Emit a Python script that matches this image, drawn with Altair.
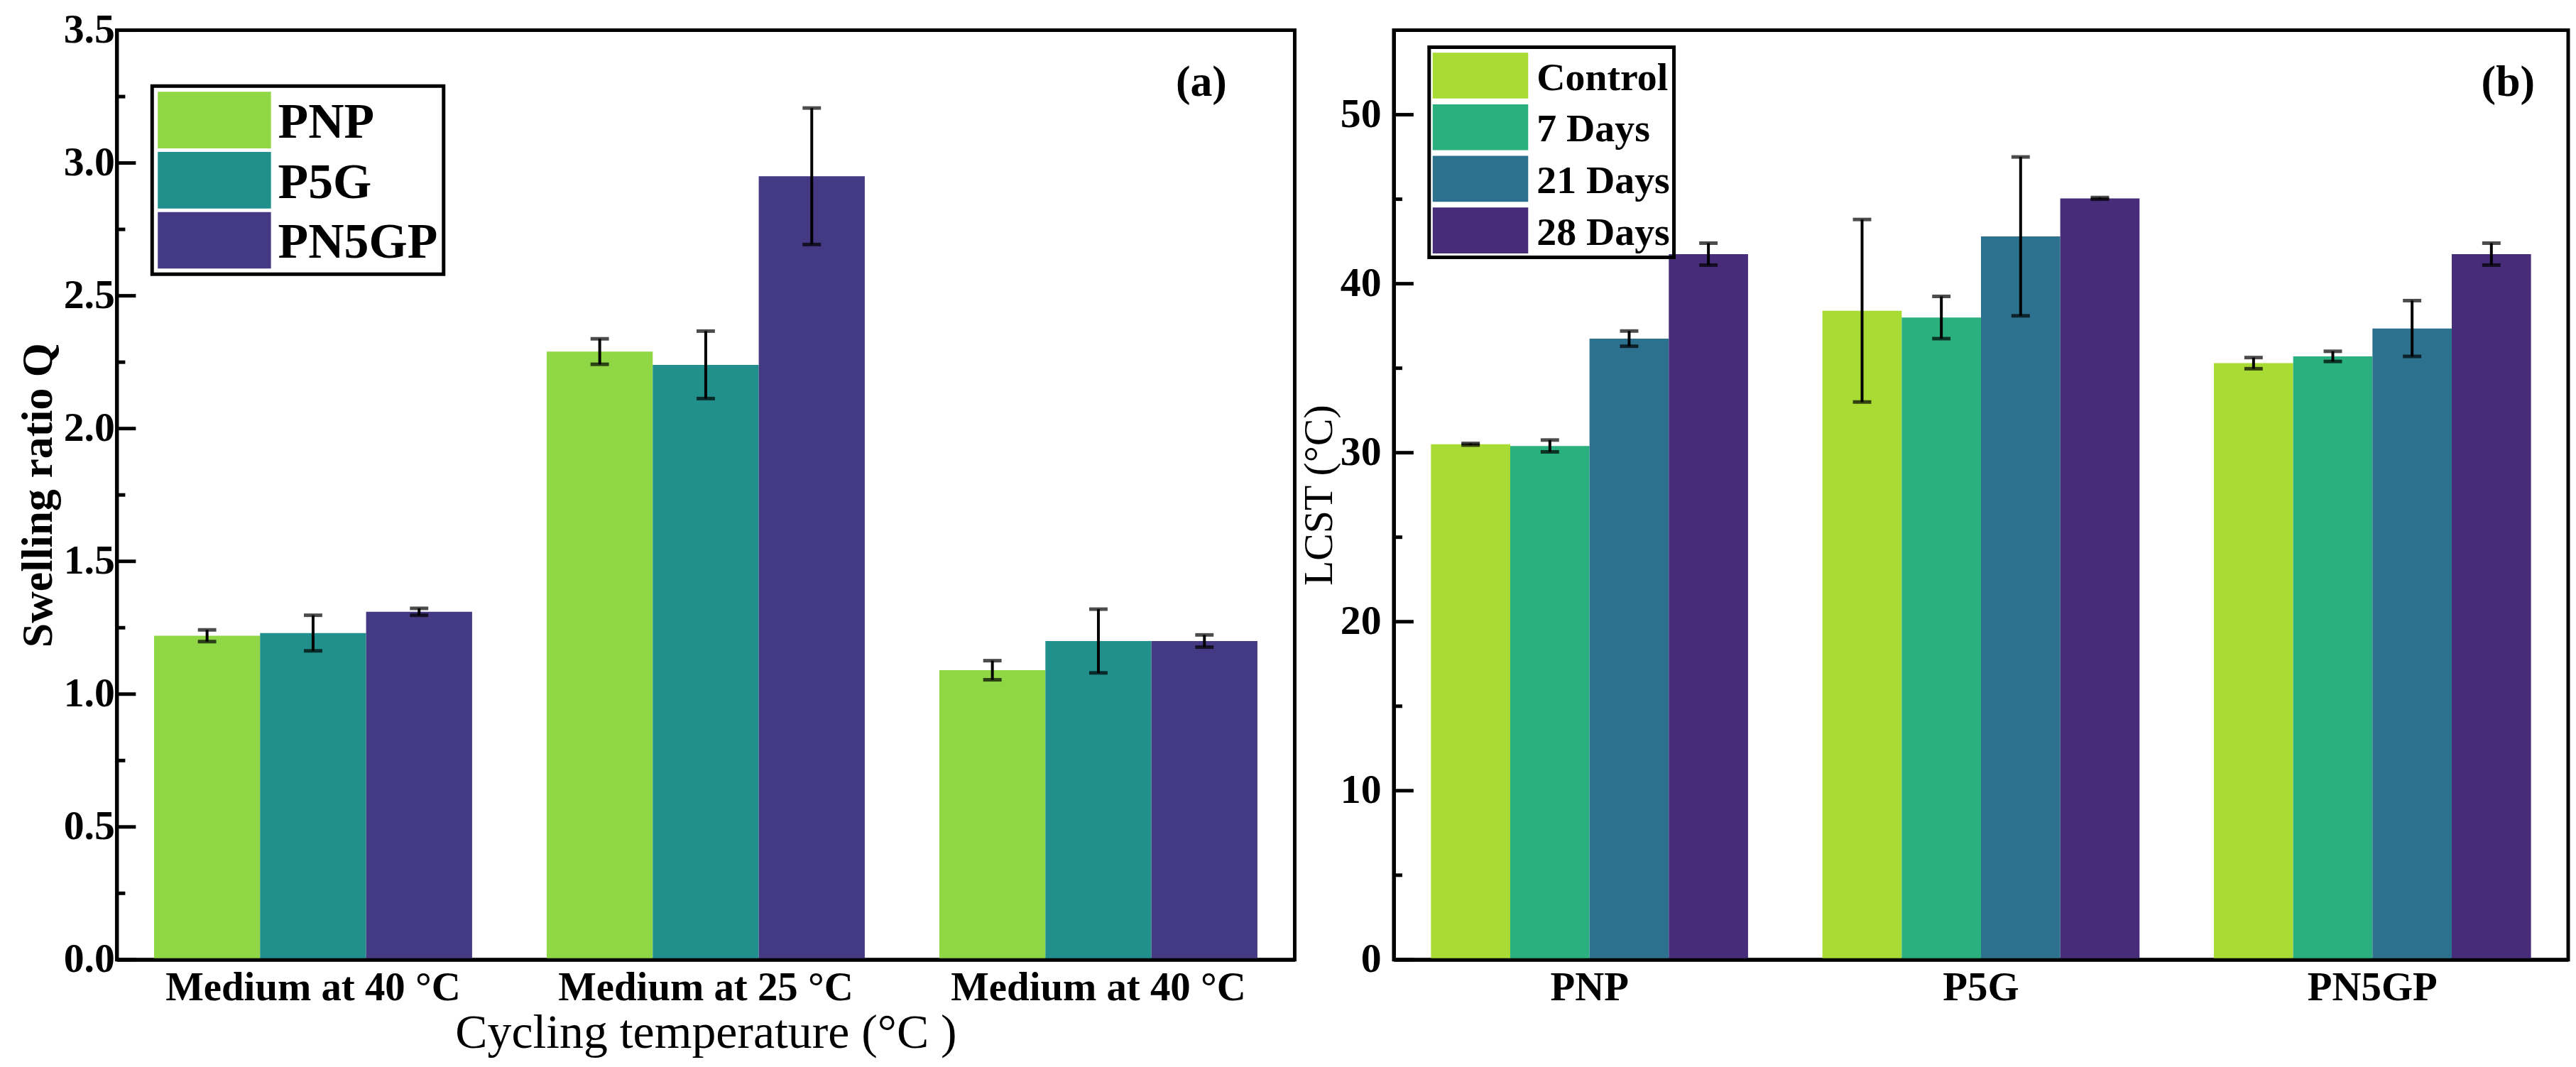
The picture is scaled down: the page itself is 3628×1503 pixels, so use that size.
import altair as alt
import pandas as pd

# ---------------- data: panel (a) ----------------
conditions = ["Medium at 40 °C", "Medium at 25 °C", "Medium at 40 °C"]
samples_a = ["PNP", "P5G", "PN5GP"]
q_pnp = [1.22, 2.29, 1.09]
q_pnp_err = [0.022, 0.048, 0.036]
q_p5g = [1.23, 2.24, 1.20]
q_p5g_err = [0.067, 0.127, 0.12]
q_pn5gp = [1.31, 2.95, 1.20]
q_pn5gp_err = [0.013, 0.257, 0.023]
colors_a = ["#8FD744", "#21908C", "#443983"]
yticks_a = [0.0, 0.5, 1.0, 1.5, 2.0, 2.5, 3.0, 3.5]
yminor_a = [0.25, 0.75, 1.25, 1.75, 2.25, 2.75, 3.25]

# ---------------- data: panel (b) ----------------
samples_b = ["PNP", "P5G", "PN5GP"]
times_b = ["Control", "7 Days", "21 Days", "28 Days"]
lcst_control = [30.5, 38.4, 35.3]
lcst_control_err = [0.05, 5.4, 0.33]
lcst_7d = [30.4, 38.0, 35.7]
lcst_7d_err = [0.35, 1.25, 0.3]
lcst_21d = [36.75, 42.8, 37.35]
lcst_21d_err = [0.45, 4.7, 1.65]
lcst_28d = [41.75, 45.05, 41.75]
lcst_28d_err = [0.65, 0.05, 0.65]
colors_b = ["#A8DB34", "#2AB07F", "#2C728E", "#472C7A"]
yticks_b = [0, 10, 20, 30, 40, 50]
yminor_b = [5, 15, 25, 35, 45]

FONT = "Liberation Serif"

# ---------------- build tables ----------------
cond_ids = [f"c{i}" for i in range(len(conditions))]
rows_a = []
for s, vals, errs in zip(samples_a, [q_pnp, q_p5g, q_pn5gp], [q_pnp_err, q_p5g_err, q_pn5gp_err]):
    for cid, v, e in zip(cond_ids, vals, errs):
        rows_a.append({"cond": cid, "sample": s, "q": v, "lo": v - e, "hi": v + e})
df_a = pd.DataFrame(rows_a)

rows_b = []
for t, vals, errs in zip(times_b, [lcst_control, lcst_7d, lcst_21d, lcst_28d],
                         [lcst_control_err, lcst_7d_err, lcst_21d_err, lcst_28d_err]):
    for s, v, e in zip(samples_b, vals, errs):
        rows_b.append({"sample": s, "time": t, "lcst": v, "lo": v - e, "hi": v + e})
df_b = pd.DataFrame(rows_b)

label_expr = " : ".join(
    [f"datum.value == '{cid}' ? '{lab}'" for cid, lab in zip(cond_ids, conditions)]
) + " : ''"

W_A, W_B, H = 1665, 1660, 1314

# ---------------- panel (a) ----------------
ya = alt.Scale(domain=[0, 3.5], nice=False, zero=True)
yaxis_a = alt.Axis(values=yticks_a, format=".1f", title="Swelling ratio Q",
                   labelFontSize=58, labelFontWeight="bold", labelPadding=3,
                   titleFontSize=62, titleFontWeight="bold", titlePadding=4,
                   ticks=False, domainWidth=5, zindex=1)
xaxis_a = alt.Axis(labelExpr=label_expr, title="Cycling temperature (°C )",
                   labelAngle=0, labelFontSize=57, labelFontWeight="bold",
                   labelPadding=12, labelLimit=700, titleFontSize=68,
                   titleFontWeight="normal", titlePadding=2, ticks=False,
                   domainWidth=5, zindex=1)
xsc_a = alt.Scale(paddingInner=0.19, paddingOuter=0.095)
xa = alt.X("cond:N", sort=cond_ids, scale=xsc_a, axis=xaxis_a)
xoff_a = alt.XOffset("sample:N", sort=samples_a,
                     scale=alt.Scale(paddingInner=0, paddingOuter=0))

bars_a = alt.Chart(df_a).mark_bar(strokeWidth=0).encode(
    x=xa,
    xOffset=xoff_a,
    y=alt.Y("q:Q", scale=ya, axis=yaxis_a),
    color=alt.Color("sample:N",
                    scale=alt.Scale(domain=samples_a, range=colors_a),
                    legend=alt.Legend(title=None, orient="none", legendX=50, legendY=79,
                                      symbolType="M-1,-1H1V0H-1Z", symbolSize=25600,
                                      symbolStrokeWidth=0, symbolOpacity=1,
                                      labelFontSize=70, labelFontWeight="bold",
                                      labelBaseline="bottom",
                                      labelOffset=10, labelLimit=500, rowPadding=5,
                                      padding=8, strokeColor="black")),
)

err_rule_a = alt.Chart(df_a).mark_rule(color="black", strokeWidth=4).encode(
    x=xa, xOffset=xoff_a,
    y=alt.Y("lo:Q", scale=ya, axis=yaxis_a), y2="hi:Q")
cap_lo_a = alt.Chart(df_a).mark_tick(color="black", size=26, thickness=5, orient="horizontal").encode(
    x=xa, xOffset=xoff_a, y=alt.Y("lo:Q", scale=ya, axis=yaxis_a))
cap_hi_a = alt.Chart(df_a).mark_tick(color="black", size=26, thickness=5, orient="horizontal").encode(
    x=xa, xOffset=xoff_a, y=alt.Y("hi:Q", scale=ya, axis=yaxis_a))

tick_major_a = alt.Chart(pd.DataFrame({"v": yticks_a})).mark_rule(color="black", strokeWidth=5).encode(
    y=alt.Y("v:Q", scale=ya, axis=yaxis_a), x=alt.value(0), x2=alt.value(27))
tick_minor_a = alt.Chart(pd.DataFrame({"v": yminor_a})).mark_rule(color="black", strokeWidth=5).encode(
    y=alt.Y("v:Q", scale=ya, axis=yaxis_a), x=alt.value(0), x2=alt.value(12))
tag_a = alt.Chart(pd.DataFrame({"t": ["(a)"]})).mark_text(
    font=FONT, fontSize=62, fontWeight="bold", color="black", align="center", baseline="middle"
).encode(text="t:N", x=alt.value(1533), y=alt.value(74))

panel_a = alt.layer(bars_a, err_rule_a, cap_lo_a, cap_hi_a, tick_major_a, tick_minor_a, tag_a).properties(
    width=W_A, height=H)

# ---------------- panel (b) ----------------
yb = alt.Scale(domain=[0, 55], nice=False, zero=True)
yaxis_b = alt.Axis(values=yticks_b, format="d", title="LCST (°C)",
                   labelFontSize=58, labelFontWeight="bold", labelPadding=18,
                   titleFontSize=58, titleFontWeight="normal", titlePadding=0,
                   ticks=False, domainWidth=5, zindex=1)
xaxis_b = alt.Axis(title=None, labelAngle=0, labelFontSize=57, labelFontWeight="bold",
                   labelPadding=12, labelLimit=700, ticks=False, domainWidth=5, zindex=1)
xb = alt.X("sample:N", sort=samples_b,
           scale=alt.Scale(paddingInner=0.19, paddingOuter=0.095), axis=xaxis_b)
xoff_b = alt.XOffset("time:N", sort=times_b, scale=alt.Scale(paddingInner=0, paddingOuter=0))

bars_b = alt.Chart(df_b).mark_bar(strokeWidth=0).encode(
    x=xb,
    xOffset=xoff_b,
    y=alt.Y("lcst:Q", scale=yb, axis=yaxis_b),
    color=alt.Color("time:N",
                    scale=alt.Scale(domain=times_b, range=colors_b),
                    legend=alt.Legend(title=None, orient="none", legendX=50, legendY=24,
                                      symbolType="M-1,-0.96H1V0H-1Z", symbolSize=18225,
                                      symbolStrokeWidth=0, symbolOpacity=1,
                                      labelFontSize=56, labelFontWeight="bold",
                                      labelBaseline="bottom",
                                      labelOffset=12, labelLimit=500, rowPadding=5,
                                      padding=5, strokeColor="black")),
)

err_rule_b = alt.Chart(df_b).mark_rule(color="black", strokeWidth=4).encode(
    x=xb, xOffset=xoff_b,
    y=alt.Y("lo:Q", scale=yb, axis=yaxis_b), y2="hi:Q")
cap_lo_b = alt.Chart(df_b).mark_tick(color="black", size=26, thickness=5, orient="horizontal").encode(
    x=xb, xOffset=xoff_b, y=alt.Y("lo:Q", scale=yb, axis=yaxis_b))
cap_hi_b = alt.Chart(df_b).mark_tick(color="black", size=26, thickness=5, orient="horizontal").encode(
    x=xb, xOffset=xoff_b, y=alt.Y("hi:Q", scale=yb, axis=yaxis_b))

tick_major_b = alt.Chart(pd.DataFrame({"v": yticks_b})).mark_rule(color="black", strokeWidth=5).encode(
    y=alt.Y("v:Q", scale=yb, axis=yaxis_b), x=alt.value(0), x2=alt.value(28))
tick_minor_b = alt.Chart(pd.DataFrame({"v": yminor_b})).mark_rule(color="black", strokeWidth=5).encode(
    y=alt.Y("v:Q", scale=yb, axis=yaxis_b), x=alt.value(0), x2=alt.value(12))
tag_b = alt.Chart(pd.DataFrame({"t": ["(b)"]})).mark_text(
    font=FONT, fontSize=62, fontWeight="bold", color="black", align="center", baseline="middle"
).encode(text="t:N", x=alt.value(1575), y=alt.value(74))

panel_b = alt.layer(bars_b, err_rule_b, cap_lo_b, cap_hi_b, tick_major_b, tick_minor_b, tag_b).properties(
    width=W_B, height=H)

chart = alt.hconcat(panel_a, panel_b, spacing=0).resolve_scale(
    color="independent", x="independent", y="independent", xOffset="independent"
).properties(
    padding={"left": 12, "top": 0, "right": 0, "bottom": 0}
).configure(
    font=FONT,
).configure_view(
    stroke="black", strokeWidth=5
).configure_axis(
    domainColor="black", labelColor="black", titleColor="black", grid=False,
    labelFont=FONT, titleFont=FONT,
).configure_legend(
    strokeWidth=5, labelColor="black", labelFont=FONT,
)

chart.save("out.html", embed_options={"renderer": "svg", "actions": False})
